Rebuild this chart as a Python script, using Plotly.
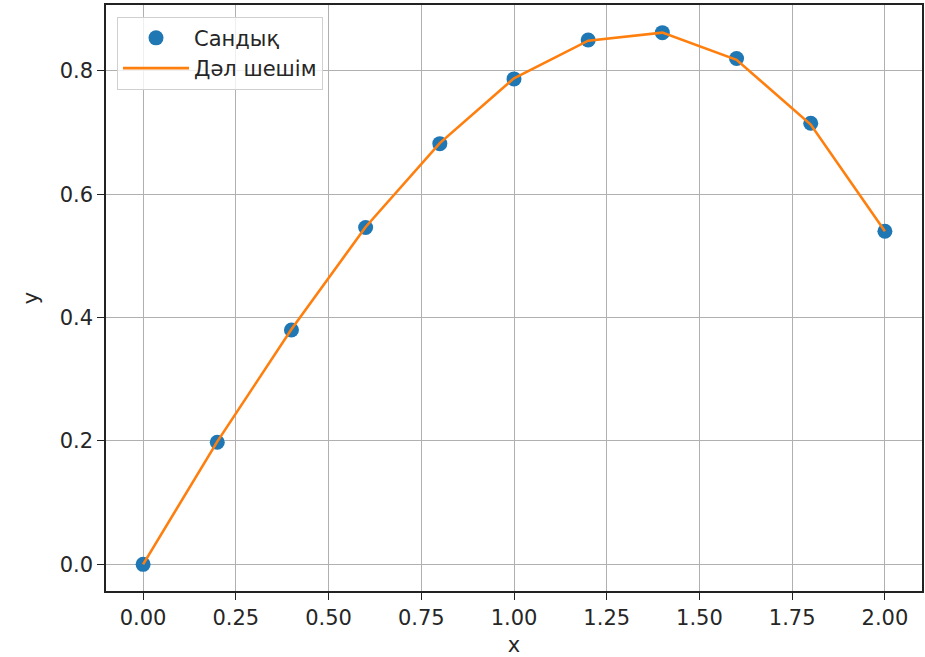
import plotly.graph_objects as go

x_vals = [0.0, 0.2, 0.4, 0.6, 0.8, 1.0, 1.2, 1.4, 1.6, 1.8, 2.0]
y_numeric = [0.0, 0.198, 0.380, 0.546, 0.682, 0.787, 0.850, 0.862, 0.820, 0.715, 0.540]
y_exact = [0.0, 0.199, 0.381, 0.547, 0.683, 0.788, 0.849, 0.862, 0.818, 0.713, 0.540]
x_ticks = [0.0, 0.25, 0.5, 0.75, 1.0, 1.25, 1.5, 1.75, 2.0]
x_tick_labels = ["0.00", "0.25", "0.50", "0.75", "1.00", "1.25", "1.50", "1.75", "2.00"]
y_ticks = [0.0, 0.2, 0.4, 0.6, 0.8]
y_tick_labels = ["0.0", "0.2", "0.4", "0.6", "0.8"]
names = ["Сандық", "Дәл шешім"]

font_family = "DejaVu Sans"
text_color = "#262626"

fig = go.Figure()
fig.add_trace(go.Scatter(
    x=x_vals, y=y_numeric, mode="markers", name=names[0],
    marker=dict(color="#1f77b4", size=15),
))
fig.add_trace(go.Scatter(
    x=x_vals, y=y_exact, mode="lines", name=names[1],
    line=dict(color="#ff7f0e", width=2.6),
))

axis_common = dict(
    showline=True, linecolor="#222222", linewidth=1.5, mirror=True,
    ticks="outside", ticklen=7, tickwidth=1.4, tickcolor="#222222",
    showgrid=True, gridcolor="#b0b0b0", gridwidth=1.2,
    zeroline=False,
    tickfont=dict(family=font_family, size=21, color=text_color),
    automargin=False,
)

fig.update_layout(
    width=925, height=657,
    paper_bgcolor="white", plot_bgcolor="white",
    margin=dict(l=106, r=3, t=5, b=66),
    font=dict(family=font_family, size=21, color=text_color),
    showlegend=True,
    legend=dict(
        x=0.0135, y=0.98, xanchor="left", yanchor="top",
        bgcolor="rgba(255,255,255,0.8)", bordercolor="#d0d0d0", borderwidth=1,
        font=dict(family=font_family, size=21, color=text_color),
        itemwidth=66,
    ),
    xaxis=dict(
        range=[-0.1, 2.1], tickvals=x_ticks, ticktext=x_tick_labels,
        title=dict(text="x", font=dict(family=font_family, size=21, color=text_color), standoff=15),
        **axis_common,
    ),
    yaxis=dict(
        range=[-0.0432, 0.9068], tickvals=y_ticks, ticktext=y_tick_labels,
        title=dict(text="y", font=dict(family=font_family, size=21, color=text_color), standoff=15),
        **axis_common,
    ),
)

fig.write_html("out.html", config={"displayModeBar": False},
               post_script="document.body.style.margin='0px';")
